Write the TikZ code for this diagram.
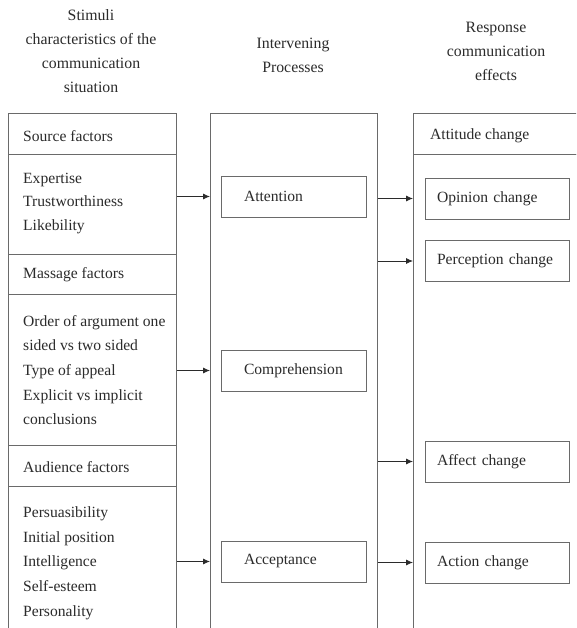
\documentclass[tikz,border=0pt]{standalone}
\usepackage{fontspec}
\setmainfont{Liberation Serif}
\usetikzlibrary{arrows.meta}
\definecolor{ln}{HTML}{6A6A6A}
\definecolor{tx}{HTML}{2B2B2B}
\begin{document}
\begin{tikzpicture}[x=1pt,y=-1pt,
  every node/.style={text=tx},
  cell/.style={draw=ln, line width=0.8pt, inner sep=0pt, anchor=north west},
  pbox/.style={draw=ln, line width=0.8pt, text width=99pt, inner xsep=23pt, inner ysep=0pt, minimum height=41pt, align=left, font=\fontsize{15.6}{19}\selectfont},
  rbox/.style={draw=ln, line width=0.8pt, text width=120pt, inner xsep=12pt, inner ysep=0pt, minimum height=41pt, align=left, font=\fontsize{15.6}{19}\selectfont},
  lbl/.style={anchor=west, inner sep=0pt, align=left, font=\fontsize{15.6}{19}\selectfont},
  head/.style={align=center, inner sep=0pt, font=\fontsize{15.8}{24}\selectfont},
  arr/.style={draw=tx, line width=0.8pt, -{Latex[length=7pt,width=6pt]}}
]
\useasboundingbox (0,0) rectangle (576,628);
\clip (0,0) rectangle (576,628);
\fill[white] (0,0) rectangle (576,628);

% headers
\node[head] (h1) at (91,51) {Stimuli\\characteristics of the\\communication\\situation};
\node[head] (h2) at (293,55) {Intervening\\Processes};
\node[head] (h3) at (496,51) {Response\\communication\\effects};

% left column cells
\node[cell, minimum width=168pt, minimum height=41pt] (srcH) at (8,113) {};
\node[cell, minimum width=168pt, minimum height=100pt] (src) at (8,154) {};
\node[cell, minimum width=168pt, minimum height=40pt] (msgH) at (8,254) {};
\node[cell, minimum width=168pt, minimum height=151pt] (msg) at (8,294) {};
\node[cell, minimum width=168pt, minimum height=41pt] (audH) at (8,445) {};
\node[cell, minimum width=168pt, minimum height=170pt] (aud) at (8,486) {};

% middle column
\node[cell, minimum width=167pt, minimum height=540pt] (mid) at (210,113) {};

% right column
\node[cell, minimum width=180pt, minimum height=41pt] (attH) at (413,113) {};
\node[cell, minimum width=180pt, minimum height=510pt] (att) at (413,154) {};

% left texts
\node[lbl] (t1) at (23,136) {Source factors};
\node[lbl, font=\fontsize{15.6}{23.5}\selectfont] (t2) at (23,203.5) {Expertise\\Trustworthiness\\Likebility};
\node[lbl] (t3) at (23,275) {Massage factors};
\node[lbl, font=\fontsize{15.6}{24.7}\selectfont] (t4) at (23,370) {Order of argument one\\sided vs two sided\\Type of appeal\\Explicit vs implicit\\conclusions};
\node[lbl] (t5) at (23,467) {Audience factors};
\node[lbl, font=\fontsize{15.6}{24.7}\selectfont] (t6) at (23,563) {Persuasibility\\Initial position\\Intelligence\\Self-esteem\\Personality};

% right header text
\node[lbl] (t7) at (430,136) {Attitude change};

% middle boxes
\node[pbox] (attn) at (293.5,196.5) {Attention};
\node[pbox] (comp) at (293.5,370.5) {Comprehension};
\node[pbox] (acc) at (293.5,561.5) {Acceptance};

% right boxes
\node[rbox] (op) at (497,198.5) {Opinion change};
\node[rbox] (per) at (497,261) {Perception change};
\node[rbox] (aff) at (497,461.5) {Affect change};
\node[rbox] (act) at (497,562.5) {Action change};

% arrows left -> middle
\draw[arr] (src.east |- attn) -- (mid.west |- attn);
\draw[arr] (msg.east |- comp) -- (mid.west |- comp);
\draw[arr] (aud.east |- acc) -- (mid.west |- acc);

% arrows middle -> right
\draw[arr] (mid.east |- op) -- (att.west |- op);
\draw[arr] (mid.east |- per) -- (att.west |- per);
\draw[arr] (mid.east |- aff) -- (att.west |- aff);
\draw[arr] (mid.east |- act) -- (att.west |- act);
\end{tikzpicture}
\end{document}
